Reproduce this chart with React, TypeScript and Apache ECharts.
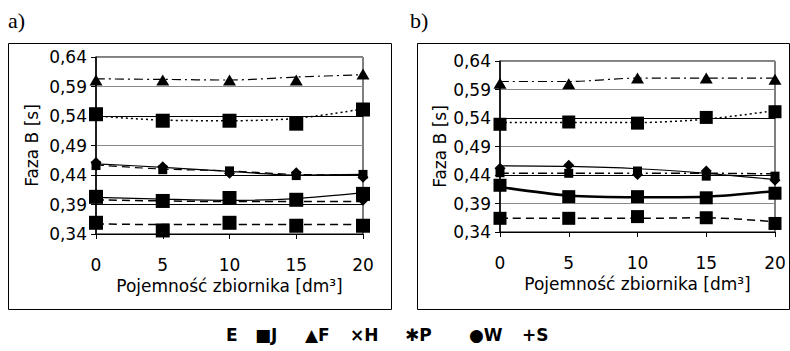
import { useEffect, useRef } from "react";
import * as echarts from "echarts";

const X_VALUES = [0, 5, 10, 15, 20];
const Y_MIN = 0.34;
const Y_MAX = 0.64;
const Y_STEP = 0.05;
const X_TITLE = "Pojemność zbiornika [dm³]";
const Y_TITLE = "Faza B [s]";
const LEGEND_ITEMS = ["E", "■J", "▲F", "×H", "✱P", "●W", "+S"];

// Panel a)
const A_TRI_LINE = [0.603, 0.602, 0.601, 0.606, 0.61];
const A_TRI_PTS = [0.601, 0.601, 0.601, 0.601, 0.611];
const A_DOT_LINE = [0.54, 0.533, 0.532, 0.536, 0.552];
const A_SQ_BIG_PTS = [0.543, 0.532, 0.532, 0.527, 0.551];
const A_SOLID_UP_LINE = [0.459, 0.453, 0.446, 0.44, 0.441];
const A_DASH_UP_LINE = [0.457, 0.45, 0.447, 0.441, 0.44];
const A_DIA_UP_PTS = [0.461, 0.454, 0.443, 0.444, 0.436];
const A_SQ_SMALL_UP_PTS = [0.456, 0.449, 0.447, 0.439, 0.441];
const A_SOLID_MID_LINE = [0.402, 0.399, 0.397, 0.4, 0.41];
const A_DASH_MID_LINE = [0.398, 0.396, 0.395, 0.395, 0.395];
const A_SQ_MID_PTS = [0.403, 0.396, 0.401, 0.398, 0.408];
const A_DIA_MID_PTS = [0.4, 0.395, 0.398, 0.397, 0.397];
const A_DASH_LOW_LINE = [0.357, 0.356, 0.356, 0.356, 0.356];
const A_SQ_LOW_PTS = [0.359, 0.346, 0.359, 0.354, 0.354];
const A_REF_LINES = [0.54, 0.44, 0.39];

// Panel b)
const B_TRI_LINE = [0.604, 0.604, 0.61, 0.61, 0.61];
const B_TRI_PTS = [0.601, 0.6, 0.61, 0.61, 0.608];
const B_DOT_LINE = [0.532, 0.532, 0.532, 0.538, 0.553];
const B_SQ_BIG_PTS = [0.529, 0.533, 0.531, 0.541, 0.551];
const B_SOLID_UP_LINE = [0.456, 0.455, 0.451, 0.443, 0.432];
const B_DASHDOT_UP_LINE = [0.443, 0.443, 0.443, 0.443, 0.442];
const B_DIA_UP_PTS = [0.452, 0.457, 0.441, 0.447, 0.431];
const B_SQ_SMALL_UP_PTS = [0.444, 0.443, 0.447, 0.438, 0.438];
const B_THICK_MID_LINE = [0.419, 0.404, 0.401, 0.402, 0.412];
const B_SQ_MID_PTS = [0.422, 0.402, 0.402, 0.4, 0.408];
const B_DASH_LOW_LINE = [0.364, 0.364, 0.364, 0.365, 0.358];
const B_SQ_LOW_PTS = [0.364, 0.364, 0.367, 0.365, 0.355];
const B_REF_LINES = [0.54, 0.44];

const FONT = "DejaVu Sans";
const FS = 17;

const pairs = (vals: number[]) => X_VALUES.map((x, i) => [x, vals[i]]);

function lineSeries(idx: number, vals: number[], type: any, width = 1.2) {
  return {
    type: "line",
    xAxisIndex: idx,
    yAxisIndex: idx,
    data: pairs(vals),
    symbol: "none",
    smooth: 0.3,
    silent: true,
    lineStyle: { color: "#000", width, type },
    z: 2,
  };
}

function pointSeries(idx: number, vals: number[], symbol: string, size: number | number[]) {
  return {
    type: "scatter",
    xAxisIndex: idx,
    yAxisIndex: idx,
    data: pairs(vals),
    symbol,
    symbolSize: size,
    silent: true,
    itemStyle: { color: "#000", opacity: 1 },
    z: 3,
  };
}

function refSeries(idx: number, levels: number[]) {
  return {
    type: "line",
    xAxisIndex: idx,
    yAxisIndex: idx,
    data: [],
    silent: true,
    markLine: {
      silent: true,
      symbol: "none",
      label: { show: false },
      lineStyle: { color: "#000", width: 1, type: "solid" },
      data: levels.map((v) => ({ yAxis: v })),
    },
  };
}

function xAxis(idx: number, gap: number) {
  return {
    type: "value",
    gridIndex: idx,
    min: 0,
    max: 20,
    interval: 5,
    axisLine: { show: true, lineStyle: { color: "#000", width: 1 } },
    axisTick: { show: true, length: 5, lineStyle: { color: "#000" } },
    axisLabel: { margin: 22, fontSize: FS, color: "#000", fontFamily: FONT },
    splitLine: { show: false },
    name: X_TITLE,
    nameLocation: "middle",
    nameGap: gap,
    nameTextStyle: { fontSize: FS, color: "#000", fontFamily: FONT },
  };
}

function yAxis(idx: number, gap: number) {
  return {
    type: "value",
    gridIndex: idx,
    min: Y_MIN,
    max: Y_MAX,
    interval: Y_STEP,
    axisLine: { show: true, lineStyle: { color: "#000", width: 1.5 } },
    axisTick: { show: true, length: 5, lineStyle: { color: "#000" } },
    axisLabel: {
      margin: 9,
      fontSize: FS,
      color: "#000",
      fontFamily: FONT,
      formatter: (v: number) => v.toFixed(2).replace(".", ","),
    },
    splitLine: { show: true, lineStyle: { color: "#8a8a8a", width: 1 } },
    name: Y_TITLE,
    nameLocation: "middle",
    nameGap: gap,
    nameTextStyle: { fontSize: FS, color: "#000", fontFamily: FONT },
  };
}

const LEGEND_X = [226, 255, 305, 350, 405, 469, 522];

export default function App() {
  const ref = useRef<HTMLDivElement>(null);
  useEffect(() => {
    if (!ref.current) return;
    const chart = echarts.init(ref.current, undefined, { renderer: "svg" });
    const dashDot = [9, 4, 2, 4];
    const dotted = [2, 3];
    const dashed = [8, 5];
    chart.setOption({
      animation: false,
      backgroundColor: "#fff",
      grid: [
        { left: 96, top: 57, width: 267, height: 177, show: true, borderColor: "#000", borderWidth: 1 },
        { left: 500, top: 61, width: 275, height: 171, show: true, borderColor: "#000", borderWidth: 1 },
      ],
      xAxis: [xAxis(0, 41), xAxis(1, 43)],
      yAxis: [yAxis(0, 56), yAxis(1, 52)],
      graphic: [
        { type: "rect", shape: { x: 8.5, y: 43.5, width: 383, height: 266 }, style: { fill: "none", stroke: "#000", lineWidth: 1 }, silent: true },
        { type: "rect", shape: { x: 417.5, y: 43.5, width: 372, height: 266 }, style: { fill: "none", stroke: "#000", lineWidth: 1 }, silent: true },
        { type: "text", x: 8, y: 9, style: { text: "a)", font: "22px 'Liberation Serif'", fill: "#000" }, silent: true },
        { type: "text", x: 410, y: 9, style: { text: "b)", font: "22px 'Liberation Serif'", fill: "#000" }, silent: true },
        ...LEGEND_ITEMS.map((t, i) => ({
          type: "text",
          x: LEGEND_X[i],
          y: 335,
          style: { text: t, font: "bold 17px 'DejaVu Sans'", fill: "#000", align: "left", verticalAlign: "middle" },
          silent: true,
        })),
      ],
      series: [
        refSeries(0, A_REF_LINES),
        lineSeries(0, A_TRI_LINE, dashDot),
        lineSeries(0, A_DOT_LINE, dotted, 1.5),
        lineSeries(0, A_SOLID_UP_LINE, "solid"),
        lineSeries(0, A_DASH_UP_LINE, dashed),
        lineSeries(0, A_SOLID_MID_LINE, "solid"),
        lineSeries(0, A_DASH_MID_LINE, dashed, 1.5),
        lineSeries(0, A_DASH_LOW_LINE, dashed, 1.5),
        pointSeries(0, A_TRI_PTS, "triangle", [13, 11]),
        pointSeries(0, A_SQ_BIG_PTS, "rect", 14),
        pointSeries(0, A_SQ_SMALL_UP_PTS, "rect", 9),
        pointSeries(0, A_DIA_UP_PTS, "diamond", [11, 11]),
        pointSeries(0, A_DIA_MID_PTS, "diamond", [11, 11]),
        pointSeries(0, A_SQ_MID_PTS, "rect", 14),
        pointSeries(0, A_SQ_LOW_PTS, "rect", 14),

        refSeries(1, B_REF_LINES),
        lineSeries(1, B_TRI_LINE, dashDot),
        lineSeries(1, B_DOT_LINE, dotted, 1.5),
        lineSeries(1, B_SOLID_UP_LINE, "solid"),
        lineSeries(1, B_DASHDOT_UP_LINE, dashDot, 1.5),
        lineSeries(1, B_THICK_MID_LINE, "solid", 2.5),
        lineSeries(1, B_DASH_LOW_LINE, dashed, 1.5),
        pointSeries(1, B_TRI_PTS, "triangle", [13, 11]),
        pointSeries(1, B_SQ_BIG_PTS, "rect", 13),
        pointSeries(1, B_SQ_SMALL_UP_PTS, "rect", 9),
        pointSeries(1, B_DIA_UP_PTS, "diamond", [11, 11]),
        pointSeries(1, B_SQ_MID_PTS, "rect", 13),
        pointSeries(1, B_SQ_LOW_PTS, "rect", 13),
      ],
    });
    return () => chart.dispose();
  }, []);
  return (
    <div
      ref={ref}
      style={{ position: "fixed", left: 0, top: 0, width: 790, height: 351, background: "#fff" }}
    />
  );
}
